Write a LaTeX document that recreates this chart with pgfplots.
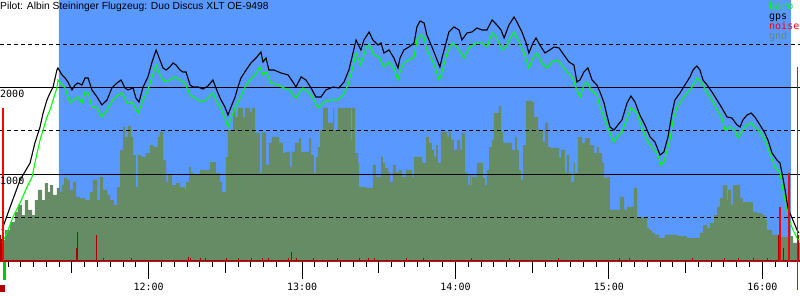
\documentclass[border=0pt]{standalone}
\usepackage{pgfplots}
\pgfplotsset{compat=1.18}
\usepackage{fontspec}
\setmainfont{Liberation Sans}
\setmonofont{DejaVu Sans Mono}
\definecolor{bluebg}{RGB}{88,152,255}
\definecolor{gndc}{RGB}{102,140,102}
\definecolor{barogreen}{RGB}{0,255,0}
\definecolor{noisered}{RGB}{170,0,0}
\definecolor{brightred}{RGB}{255,0,0}
\definecolor{startgreen}{RGB}{0,200,0}

\pgfplotstableread{
t alt
2.6 357
5.8 623
9.7 934
13.6 1130
15.5 1361
17.5 1545
18.7 1706
20.2 1856
21.4 1937
22.6 2006
24.1 2202
24.5 2225
26.1 2145
27.3 2110
28.4 2064
30.0 1972
31.2 2029
32.3 2052
33.9 2029
35.1 2110
36.3 2110
37.8 1972
39.8 1891
41.7 1799
43.7 1856
45.6 1995
47.6 2052
49.2 2087
50.7 1995
51.9 1972
53.9 1995
55.0 1879
56.2 1833
57.8 2006
59.7 2122
61.3 2294
62.9 2433
64.4 2318
65.6 2225
66.8 2202
68.3 2237
69.5 2283
70.7 2260
72.2 2202
73.4 2179
74.6 2179
76.2 2029
77.3 2006
79.3 2006
81.2 1983
83.2 2018
85.1 2087
86.3 1995
87.9 1879
89.8 1776
91.0 1683
92.2 1776
93.8 1891
94.9 2006
96.1 2110
98.1 2202
100.0 2283
102.0 2341
103.9 2410
104.7 2294
105.9 2341
107.0 2202
109.0 2202
111.7 2168
114.5 2145
116.4 2064
117.6 2006
119.6 2122
121.5 2087
123.5 1995
125.4 1891
127.4 1891
129.3 1972
132.1 2006
134.4 1995
136.4 2064
138.3 2202
139.9 2398
141.1 2548
143.0 2433
144.2 2548
146.2 2640
147.7 2548
149.7 2490
150.9 2514
152.0 2398
154.0 2433
155.9 2341
157.5 2225
158.3 2341
159.8 2433
161.8 2467
163.8 2514
164.9 2698
166.1 2767
167.7 2744
168.8 2606
170.8 2467
172.8 2318
173.9 2237
174.7 2341
176.3 2514
177.4 2640
179.4 2698
181.4 2663
182.5 2548
184.5 2629
186.4 2640
188.4 2686
190.4 2663
192.3 2663
194.3 2779
196.2 2721
197.8 2663
199.0 2571
200.9 2721
202.9 2813
204.0 2756
206.0 2640
207.6 2514
208.7 2398
210.3 2514
211.5 2571
213.0 2490
215.0 2398
216.9 2433
218.5 2467
220.5 2456
222.4 2375
224.4 2294
226.3 2260
227.5 2064
228.7 2087
230.2 2179
231.8 2225
233.4 2087
235.3 2029
236.5 1949
238.1 1822
239.2 1683
240.4 1545
242.0 1510
243.5 1568
245.1 1626
247.1 1822
248.6 1902
250.2 1833
252.1 1683
254.1 1568
256.1 1430
258.0 1372
260.0 1222
261.5 1257
263.1 1430
264.7 1706
265.8 1856
267.8 1937
269.7 2029
271.7 2122
272.9 2202
274.4 2248
275.6 2202
276.8 2087
278.4 2029
280.3 1949
282.3 1856
284.2 1764
286.2 1660
288.1 1649
290.1 1568
291.3 1545
292.4 1626
294.0 1683
295.6 1706
297.1 1660
299.1 1568
301.0 1476
302.2 1395
303.8 1245
305.7 1165
306.9 1130
307.7 1015
308.9 819
310.0 611
311.6 496
313.6 357
314.3 323
}\gpsdata

\pgfplotstableread{
t alt
2.6 208
4.6 323
6.9 507
9.7 669
12.4 853
14.4 969
15.5 1130
17.5 1395
18.7 1510
20.2 1660
21.4 1741
22.6 1856
24.1 1995
24.5 2087
26.1 2029
27.3 1995
29.2 1822
30.4 1856
32.3 1891
33.9 1822
35.1 1949
36.3 1937
37.8 1776
39.8 1764
41.7 1660
43.7 1741
46.0 1856
48.0 1914
49.6 1937
51.5 1822
53.5 1833
55.8 1706
57.8 1856
59.7 1972
61.3 2122
62.9 2260
64.4 2145
66.4 2064
68.3 2087
70.3 2122
72.2 2087
74.2 2052
76.2 1914
78.1 1879
80.5 1833
82.4 1856
85.1 1937
86.3 1856
87.9 1776
89.8 1649
91.0 1545
92.2 1649
93.8 1764
95.7 1879
97.7 2006
99.6 2087
101.6 2145
103.5 2237
104.7 2145
105.9 2179
107.8 2052
110.6 2029
112.9 1995
114.9 1972
117.6 1879
120.3 1995
122.3 1949
124.3 1879
126.2 1764
128.6 1833
131.3 1856
134.0 1856
136.0 1914
137.9 2029
139.9 2237
141.1 2398
143.0 2260
145.0 2456
146.2 2490
148.1 2375
150.1 2352
152.0 2237
154.0 2294
155.9 2225
157.5 2087
158.3 2179
159.8 2283
161.8 2318
163.8 2352
164.9 2548
166.5 2606
167.7 2571
168.8 2433
170.8 2318
172.4 2202
173.5 2087
174.7 2179
176.7 2398
178.6 2514
180.6 2467
182.1 2398
183.3 2341
185.3 2456
188.0 2514
190.4 2514
192.3 2467
194.3 2629
196.2 2571
198.2 2433
199.7 2467
201.7 2583
202.9 2640
204.8 2525
206.8 2398
208.7 2225
210.3 2341
211.9 2398
213.8 2283
215.8 2225
217.7 2294
219.7 2318
221.6 2260
223.6 2179
225.6 2122
227.5 1972
228.7 1891
230.2 2029
231.4 2064
233.0 1972
235.3 1914
236.5 1776
238.5 1626
240.4 1476
242.0 1372
243.2 1430
245.1 1487
247.1 1649
248.6 1764
251.0 1706
252.9 1533
254.9 1395
256.8 1314
258.8 1245
260.4 1107
261.5 1141
263.9 1395
265.1 1626
266.6 1776
268.6 1856
270.5 1937
272.5 2006
274.4 2110
276.4 2052
278.4 1937
280.3 1856
282.3 1741
284.2 1649
285.4 1510
287.3 1545
289.3 1510
290.5 1418
292.4 1510
294.0 1568
295.6 1591
297.1 1545
299.1 1487
301.0 1395
303.0 1245
304.9 1084
306.9 1015
308.1 819
309.6 588
310.8 450
312.0 357
313.6 265
314.3 242
}\barodata

\pgfplotstableread{
t alt
1.8 242
3.8 357
5.8 450
7.7 565
8.9 646
10.4 530
11.6 703
12.8 588
14.4 530
15.5 703
16.7 819
18.3 703
19.4 899
20.6 796
21.4 876
22.6 761
24.1 842
25.3 796
26.1 876
26.9 957
28.0 934
29.2 819
30.4 911
31.6 738
33.1 726
35.1 703
37.0 796
38.2 934
39.8 703
41.0 969
42.1 819
43.7 761
44.9 703
46.4 646
47.6 853
48.8 1280
50.0 1545
50.7 1430
51.9 1557
53.1 1430
53.9 1222
55.0 853
55.8 1222
57.0 1199
58.9 1245
60.5 1337
61.7 1314
63.6 1430
64.4 1487
65.6 1165
66.8 911
67.5 992
69.1 876
70.7 899
72.2 853
74.2 819
74.6 911
75.8 1084
76.5 1015
77.7 992
80.1 1049
84.0 1141
86.3 1015
87.9 911
88.7 796
90.2 1199
91.0 1510
93.0 1764
93.8 1660
94.9 1764
96.9 1660
97.7 1764
99.6 1718
100.4 1764
101.6 1476
103.5 1015
104.3 1476
105.9 1107
107.0 1361
108.2 1430
111.0 1361
112.5 1245
113.3 1257
115.3 1084
116.0 1257
117.2 1361
118.8 1418
119.6 1257
122.7 1418
123.5 1222
124.6 1015
125.4 1199
126.2 1314
127.0 1510
128.2 1764
130.1 1591
132.1 1764
132.5 1510
134.0 1764
139.1 1395
139.5 1764
140.7 1245
141.9 1130
142.2 853
145.0 842
147.7 1107
148.9 969
150.9 1199
151.6 1130
152.4 1072
153.6 1026
154.4 911
155.5 1107
156.7 1026
157.9 1049
159.1 969
160.6 1049
163.0 969
163.8 1199
166.9 1130
168.5 1430
169.6 1361
170.8 1280
171.6 1199
172.4 1337
173.1 1130
174.3 1487
176.7 1430
177.4 1487
178.2 1395
179.4 1280
180.6 1395
181.8 1280
182.5 1476
183.7 1015
184.9 876
185.7 992
186.0 876
186.4 969
188.4 1130
190.7 957
191.5 876
192.3 1049
193.1 1314
194.3 1395
195.0 1706
197.0 1787
197.8 1487
198.6 1361
202.1 1280
203.3 1430
204.0 1280
204.8 1049
205.6 934
206.4 1337
207.6 1845
209.9 1833
210.7 1660
212.3 1510
214.2 1372
215.0 1591
216.2 1314
216.9 1303
220.5 1188
221.3 1280
222.8 1015
223.6 1222
224.4 1015
225.2 911
226.3 1141
226.7 1015
227.9 1430
229.5 1361
230.6 1418
232.6 1337
234.2 1245
235.3 1314
236.1 1245
237.3 1130
238.1 957
239.2 969
240.4 588
244.3 738
245.9 588
247.1 623
249.8 842
251.0 496
252.1 507
253.7 496
254.9 380
255.7 357
256.8 323
258.0 300
259.6 265
261.9 300
267.0 288
270.5 265
275.6 323
276.8 415
278.4 380
279.5 438
281.1 530
282.3 623
283.4 726
284.6 876
286.2 703
286.6 819
287.7 646
288.5 876
291.3 726
292.4 680
296.3 565
297.9 553
299.9 530
301.0 473
301.8 357
303.8 300
306.1 277
310.4 288
312.0 208
314.7 208
}\gnddata

\begin{document}
\begin{tikzpicture}
\begin{axis}[
  at={(0,0)}, anchor=south west,
  scale only axis, width=800pt, height=261pt,
  xmin=1.84, xmax=314.74, ymin=0, ymax=3009,
  clip=false,
  axis x line=bottom, axis y line=none,
  x axis line style={-, draw=noisered, line width=1.5pt},
  ytick=\empty,
  xtick={60,120,180,240,300},
  xticklabels={12:00,13:00,14:00,15:00,16:00},
  minor xtick={5,10,...,310},
  major tick length=18pt, minor tick length=6pt,
  tick align=outside,
  tick style={black, line width=1pt},
  xticklabel style={font=\ttfamily\fontsize{10}{10}\selectfont, anchor=base, yshift=-11pt},
]
% flight task background
\addplot[fill=bluebg, draw=none] coordinates {(24.9,0) (24.9,3009) (311.2,3009) (311.2,0)} \closedcycle;
% ground
\addplot[const plot, fill=gndc, draw=none] table[x=t, y=alt] {\gnddata} \closedcycle;
% grid
\addplot[black, line width=1pt] coordinates {(1.84,1000) (314.74,1000)};
\addplot[black, line width=1pt] coordinates {(1.84,2000) (314.74,2000)};
\addplot[black, line width=1pt, dash pattern=on 4pt off 3pt] coordinates {(1.84,500) (314.74,500)};
\addplot[black, line width=1pt, dash pattern=on 4pt off 3pt] coordinates {(1.84,1500) (314.74,1500)};
\addplot[black, line width=1pt, dash pattern=on 4pt off 3pt] coordinates {(1.84,2500) (314.74,2500)};
% half-hour ticks
\addplot[ycomb, black, line width=1pt] coordinates {(30,-138) (90,-138) (150,-138) (210,-138) (270,-138)};
% noise
\addplot[noisered, line width=1.5pt] coordinates {(1.84,8) (314.74,8)};
\addplot[ycomb, noisered, line width=1pt] coordinates {
(1.9,150) (2.2,300) (2.6,250) (3.4,100) (31.6,150) (32.0,150) (32.3,334) (39.4,300)
(42.5,35) (53.1,35) (75.4,46) (76.2,35) (80.1,35) (82.4,35) (90.6,35) (95.3,35)
(100.4,35) (104.7,35) (107.0,35) (114.5,35) (116.0,104) (118.0,35) (124.3,35)
(134.0,35) (142.6,35) (145.8,35) (148.5,35) (161.0,35) (167.3,35) (186.4,35)
(201.3,35) (220.1,35) (244.3,35) (248.2,35) (272.5,35) (285.4,35) (290.5,35)
(296.7,35) (302.2,35) (306.4,300) (306.7,300) (308.1,150) (313.6,300) (314.1,300)};
% altitude
\addplot[barogreen, line width=1.1pt] table[x=t, y=alt] {\barodata};
\addplot[black, line width=1.1pt] table[x=t, y=alt] {\gpsdata};
% markers
\addplot[ycomb, brightred, line width=1.2pt] coordinates {(3.0,1764) (306.9,623) (310.4,1015) (313.9,2237)};
\addplot[brightred, line width=1.2pt] coordinates {(313.9,0) (313.9,-334)};
\addplot[startgreen, line width=3pt] coordinates {(3.6,-12) (3.6,-219)};
\addplot[noisered, line width=5pt] coordinates {(2.8,-277) (2.8,-357)};
% labels
\node[anchor=base west, inner sep=0, font=\ttfamily\fontsize{10}{10}\selectfont] at (axis cs:1.84,1885) {2000};
\node[anchor=base west, inner sep=0, font=\ttfamily\fontsize{10}{10}\selectfont] at (axis cs:1.84,885) {1000};
\node[anchor=base west, inner sep=0, font=\fontsize{10.3}{12}\selectfont, yshift=-10pt] at (rel axis cs:0,1) {Pilot: Albin Steininger Flugzeug: Duo Discus XLT OE-9498};
\node[anchor=base west, inner sep=0, font=\ttfamily\fontsize{10}{10}\selectfont, text=barogreen, yshift=-10pt] at (rel axis cs:0.96125,1) {baro};
\node[anchor=base west, inner sep=0, font=\ttfamily\fontsize{10}{10}\selectfont, text=black, yshift=-20pt] at (rel axis cs:0.96125,1) {gps};
\node[anchor=base west, inner sep=0, font=\ttfamily\fontsize{10}{10}\selectfont, text=brightred, yshift=-30pt] at (rel axis cs:0.96125,1) {noise};
\node[anchor=base west, inner sep=0, font=\ttfamily\fontsize{10}{10}\selectfont, text=gndc, yshift=-40pt] at (rel axis cs:0.96125,1) {gnd};
\end{axis}
\pgfresetboundingbox
\path[use as bounding box] (0,-39pt) rectangle (800pt,261pt);
\end{tikzpicture}
\end{document}
